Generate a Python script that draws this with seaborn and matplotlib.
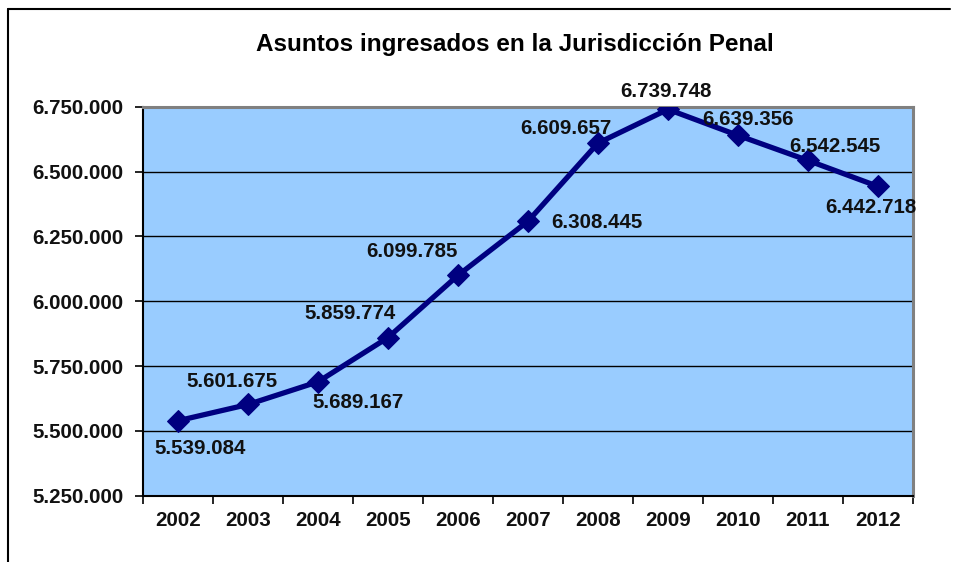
import matplotlib
matplotlib.use("Agg")
import matplotlib.pyplot as plt
from matplotlib.lines import Line2D
from matplotlib.ticker import FuncFormatter, FixedLocator
import seaborn as sns
import pandas as pd

years = ["2002", "2003", "2004", "2005", "2006", "2007", "2008", "2009", "2010", "2011", "2012"]
asuntos = [5539084, 5601675, 5689167, 5859774, 6099785, 6308445, 6609657, 6739748, 6639356, 6542545, 6442718]
yticks = [5250000, 5500000, 5750000, 6000000, 6250000, 6500000, 6750000]
title = "Asuntos ingresados en la Jurisdicción Penal"

# label offsets in pixels (dx, dy up-positive)
label_offsets = [(22, -28), (-16, 23), (40, -21), (-38, 24), (-46, 24), (69, -1),
                 (-32, 15), (-2, 18), (10, 16), (27, 14), (-7, -21)]

sns.set_theme(style="white")
plt.rcParams['font.family'] = ['Liberation Sans', 'DejaVu Sans']

df = pd.DataFrame({"year": years, "value": asuntos})

fig = plt.figure(figsize=(9.58, 5.62), dpi=100)
ax = fig.add_axes([143/958, 1 - 495.7/562, 770/958, 389/562])
ax.set_facecolor("#99CCFF")

sns.lineplot(data=df, x="year", y="value", ax=ax, color="#000080", linewidth=3.8,
             marker="D", markersize=11.5, markeredgecolor="#000080", markerfacecolor="#000080",
             zorder=5)

def fmt(v):
    return f"{int(round(v)):,}".replace(",", ".")

for i, (v, off) in enumerate(zip(asuntos, label_offsets)):
    ax.annotate(fmt(v), xy=(i, v), xytext=off, textcoords="offset pixels",
                ha="center", va="center", fontsize=14.8, fontweight="bold", color="#111111",
                zorder=6)

ax.set_xlim(-0.5, len(years) - 0.5)
ax.set_ylim(yticks[0], yticks[-1])
ax.set_yticks(yticks)
ax.yaxis.set_major_formatter(FuncFormatter(lambda v, p: fmt(v)))
ax.grid(axis="y", color="black", linewidth=1.0)
ax.set_axisbelow(True)

ax.set_xticks(range(len(years)))
ax.set_xticklabels(years)
ax.xaxis.set_minor_locator(FixedLocator([i - 0.5 for i in range(len(years) + 1)]))
ax.tick_params(axis="x", which="major", length=0, pad=11, labelsize=14.8)
ax.tick_params(axis="x", which="minor", length=6, width=1.2, direction="out", color="black", bottom=True)
ax.tick_params(axis="y", which="major", length=6, width=1.2, direction="out", color="black",
               left=True, pad=8, labelsize=14.8)
for lab in ax.get_xticklabels() + ax.get_yticklabels():
    lab.set_fontweight("bold")
    lab.set_color("#111111")

ax.set_xlabel("")
ax.set_ylabel("")

for side in ["left", "bottom"]:
    ax.spines[side].set_visible(True)
    ax.spines[side].set_color("black")
    ax.spines[side].set_linewidth(1.5)
for side in ["top", "right"]:
    ax.spines[side].set_visible(True)
    ax.spines[side].set_color("#808080")
    ax.spines[side].set_linewidth(2.2)

fig.text(515/958, 1 - 45/562, title, ha="center", va="center", fontsize=17.5,
         fontweight="bold", color="black")

# outer chart frame (left and top edges visible)
fx, fy, fr = 8/958, 1 - 8.5/562, 950/958
fig.add_artist(Line2D([fx, fx], [0, fy], transform=fig.transFigure, color="black", linewidth=1.5))
fig.add_artist(Line2D([fx, fr], [fy, fy], transform=fig.transFigure, color="black", linewidth=1.5))

fig.savefig("out.png", dpi=100)
